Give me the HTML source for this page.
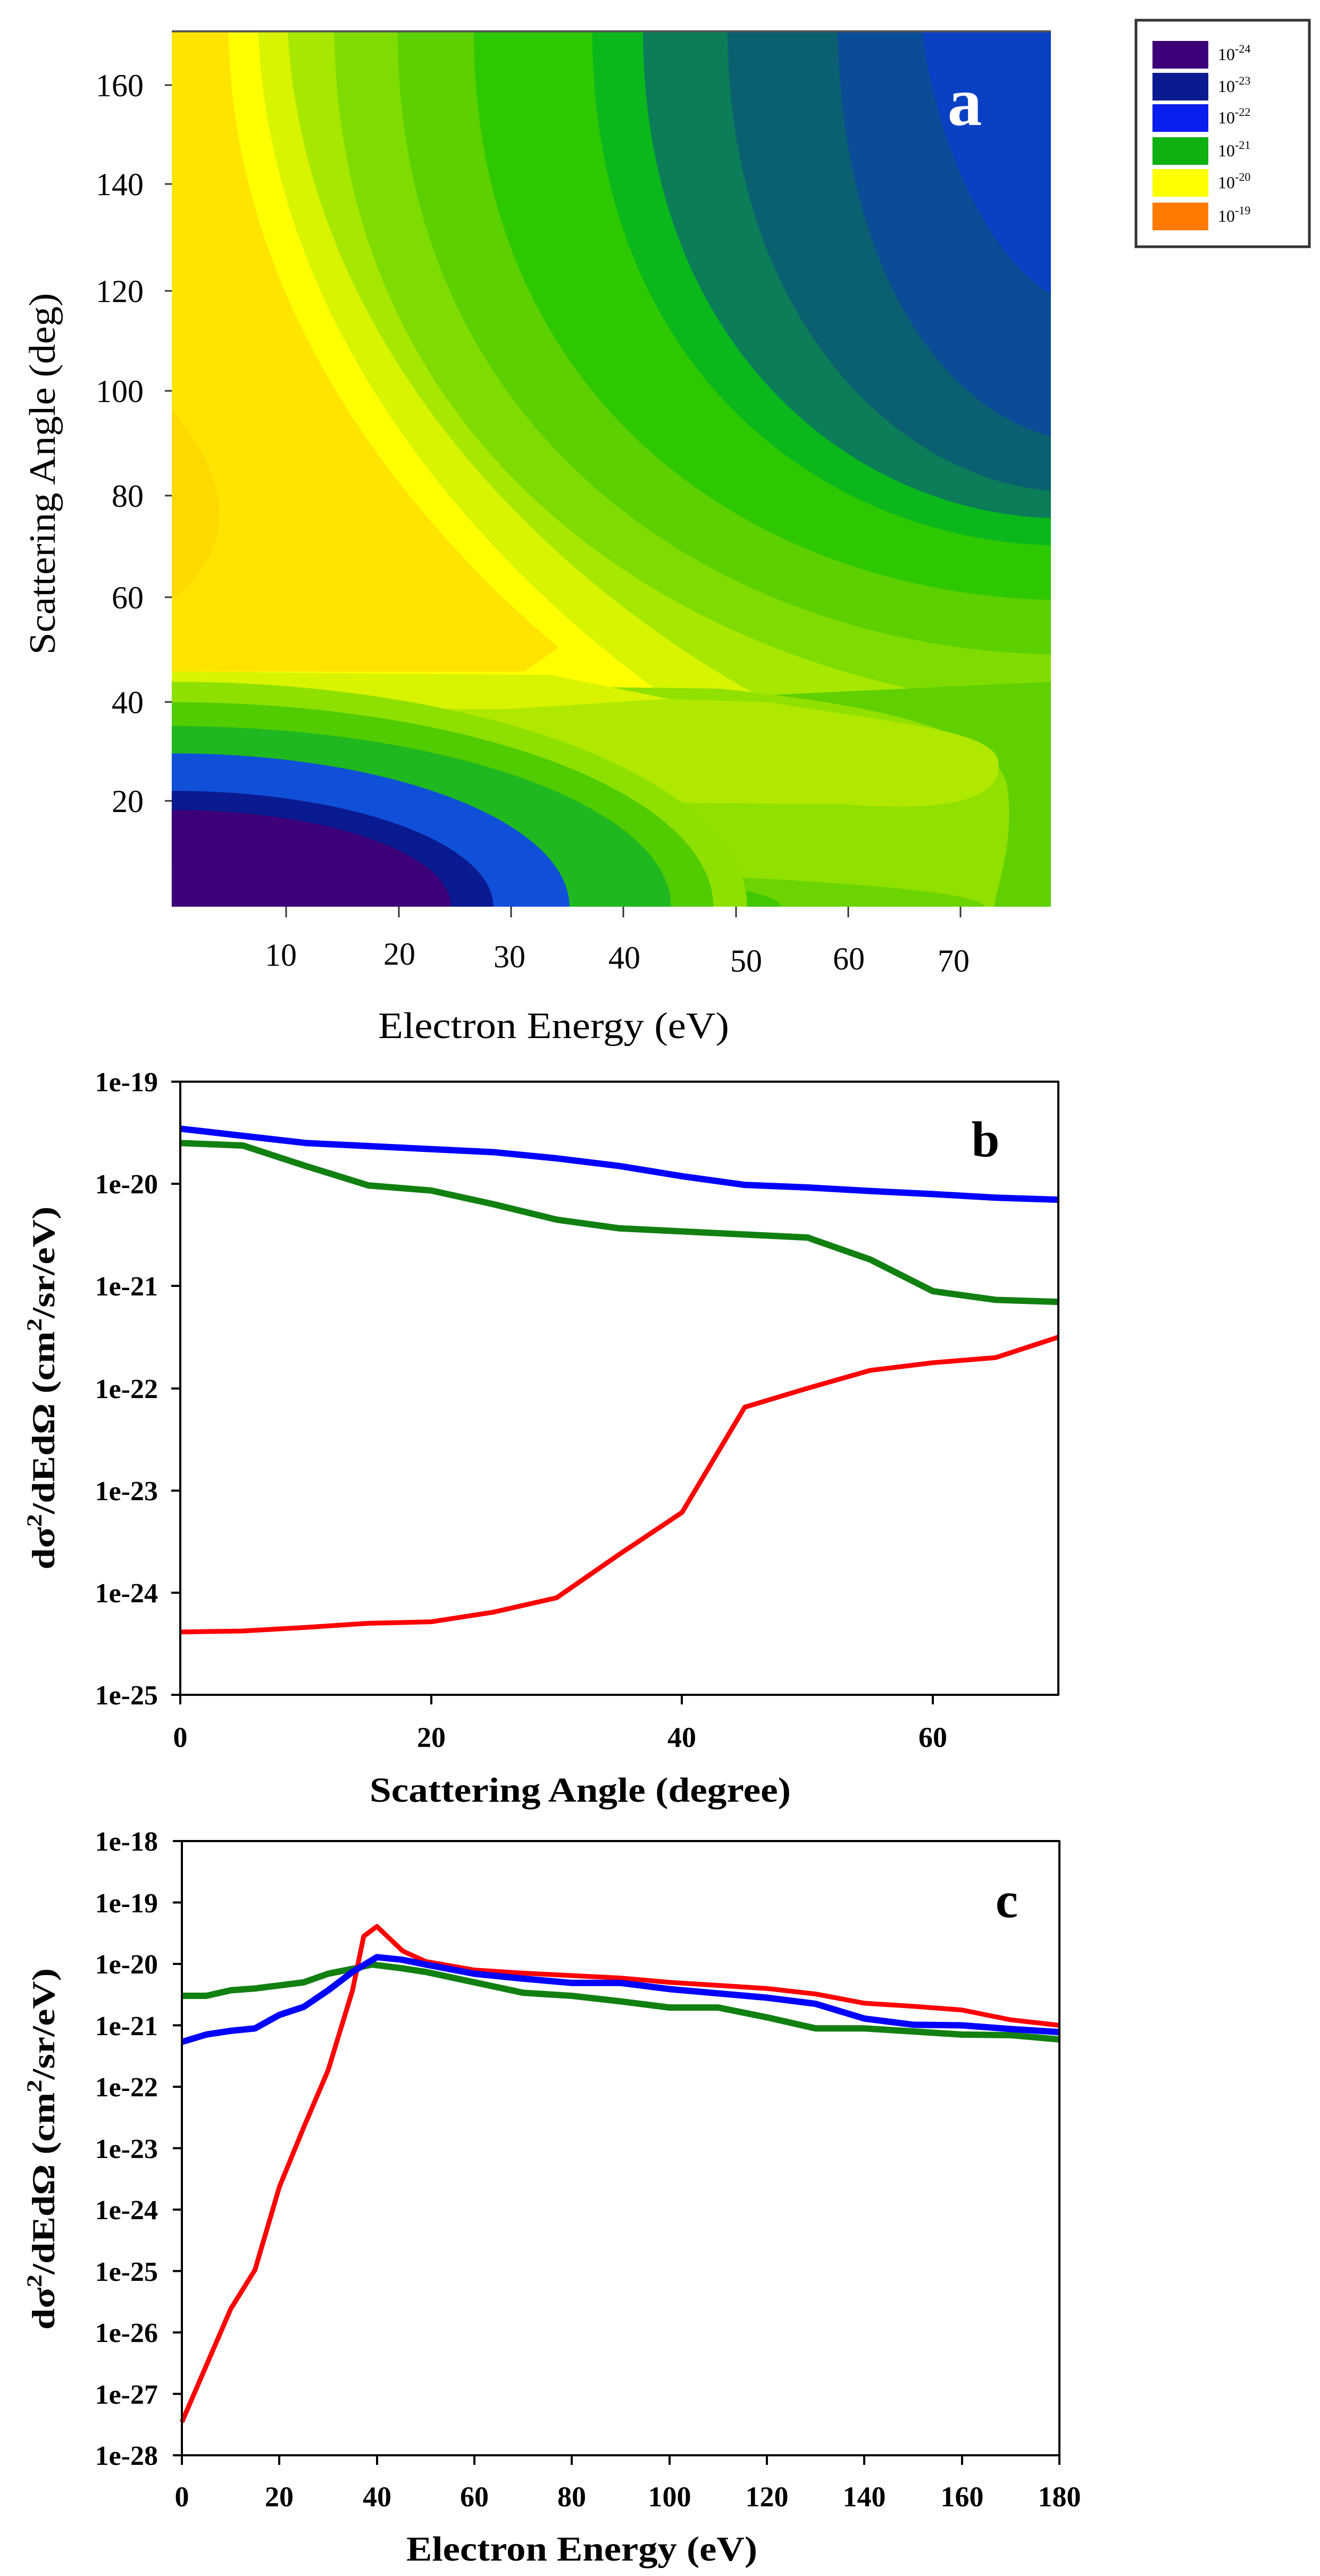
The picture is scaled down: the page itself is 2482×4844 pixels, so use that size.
<!DOCTYPE html>
<html><head><meta charset="utf-8"><style>html,body{margin:0;padding:0;background:#fff}svg{display:block}</style></head>
<body>
<svg xmlns="http://www.w3.org/2000/svg" width="2482" height="4844" viewBox="0 0 2482 4844">
<rect width="2482" height="4844" fill="#fff"/>
<defs><clipPath id="ca"><rect x="203" y="45" width="1039" height="1285"/></clipPath></defs>
<g transform="matrix(1.591 0 0 1.282 0 0)">
<g clip-path="url(#ca)">
<rect x="203" y="45" width="1039" height="1285" fill="#0a40c4"/>
<path d="M203,45 L1090,45 C1110,250 1190,400 1242,430 L1242,1330 L203,1330 Z" fill="#0b4c96"/>
<path d="M990,45 C995,400 1116,600 1242,640 L1242,1330 L203,1330 L203,45 Z" fill="#0a6070"/>
<path d="M860,45 C860,450 1050,700 1242,720 L1242,1330 L203,1330 L203,45 Z" fill="#0b7d58"/>
<path d="M760,45 C760,500 1000,750 1242,760 L1242,1330 L203,1330 L203,45 Z" fill="#0ab81c"/>
<path d="M700,45 C700,540 970,790 1242,800 L1242,1330 L203,1330 L203,45 Z" fill="#2ec800"/>
<path d="M560,45 C560,600 900,870 1242,880 L1242,1330 L203,1330 L203,45 Z" fill="#5cd000"/>
<path d="M470,45 C470,640 850,950 1242,960 L1242,1330 L203,1330 L203,45 Z" fill="#80dc00"/>
<path d="M395,45 C400,660 800,1000 1242,1040 L1242,1330 L203,1330 L203,45 Z" fill="#a8e800"/>
<path d="M340,45 C360,500 640,850 910,1030 L203,1030 L203,45 Z" fill="#d8f400"/>
<path d="M305,45 C320,480 560,820 790,1025 L203,1025 L203,45 Z" fill="#ffff00"/>
<path d="M270,45 C275,450 480,760 660,950 L620,985 L203,985 L203,45 Z" fill="#ffe400"/>
<path d="M203,600 C270,700 285,800 203,880 Z" fill="#ffd800"/>
<path d="M203,1000 L900,1020 L1242,1000 L1242,1330 L203,1330 Z" fill="#60d000"/>
<path d="M203,1000 L850,1010 C1000,1030 1170,1060 1190,1150 C1200,1230 1180,1290 1175,1330 L203,1330 Z" fill="#90e000"/>
<path d="M203,992 L790,1025 L910,1030 C1050,1060 1180,1070 1180,1120 C1185,1180 1100,1190 1000,1180 L203,1170 Z" fill="#b0e800"/>
<path d="M203,985 L650,990 L790,1025 L600,1040 L203,1040 Z" fill="#d8f400"/>
<ellipse cx="203" cy="1330" rx="960" ry="60" fill="#6cd400"/>
<ellipse cx="203" cy="1330" rx="720" ry="70" fill="#40c800"/>
<ellipse cx="203" cy="1330" rx="680" ry="330" fill="#8ee000"/>
<ellipse cx="203" cy="1330" rx="640" ry="300" fill="#50cc00"/>
<ellipse cx="203" cy="1330" rx="590" ry="265" fill="#20b820"/>
<ellipse cx="203" cy="1330" rx="470" ry="225" fill="#1050d8"/>
<ellipse cx="203" cy="1330" rx="380" ry="170" fill="#0a1a90"/>
<ellipse cx="203" cy="1330" rx="330" ry="142" fill="#3d0078"/>
</g>
<line x1="203" y1="46" x2="1242" y2="46" stroke="#555" stroke-width="3"/>
</g>
<text x="1814" y="235" font-family="Liberation Serif, serif" font-weight="bold" font-size="130" fill="#fff" text-anchor="middle">a</text>
<g stroke="#333" stroke-width="3">
<line x1="310" y1="160" x2="323" y2="160"/><line x1="310" y1="346" x2="323" y2="346"/><line x1="310" y1="547" x2="323" y2="547"/><line x1="310" y1="735" x2="323" y2="735"/><line x1="310" y1="932" x2="323" y2="932"/><line x1="310" y1="1123" x2="323" y2="1123"/><line x1="310" y1="1320" x2="323" y2="1320"/><line x1="310" y1="1506" x2="323" y2="1506"/>
<line x1="538" y1="1705" x2="538" y2="1725"/><line x1="750" y1="1705" x2="750" y2="1725"/><line x1="961" y1="1705" x2="961" y2="1725"/><line x1="1172" y1="1705" x2="1172" y2="1725"/><line x1="1384" y1="1705" x2="1384" y2="1725"/><line x1="1595" y1="1705" x2="1595" y2="1725"/><line x1="1806" y1="1705" x2="1806" y2="1725"/>
</g>
<g font-family="Liberation Serif, serif" font-size="60" fill="#000" text-anchor="end">
<text x="270" y="181">160</text><text x="270" y="367">140</text><text x="270" y="568">120</text><text x="270" y="756">100</text><text x="270" y="953">80</text><text x="270" y="1144">60</text><text x="270" y="1341">40</text><text x="270" y="1527">20</text>
</g>
<g font-family="Liberation Serif, serif" font-size="60" fill="#000" text-anchor="middle">
<text x="528" y="1816">10</text><text x="751" y="1814">20</text><text x="958" y="1819">30</text><text x="1174" y="1821">40</text><text x="1403" y="1827">50</text><text x="1596" y="1823">60</text><text x="1793" y="1827">70</text>
<text x="1041" y="1952" font-size="70" textLength="660" lengthAdjust="spacingAndGlyphs">Electron Energy (eV)</text>
<text transform="translate(103,891) rotate(-90)" font-size="70" textLength="680" lengthAdjust="spacingAndGlyphs">Scattering Angle (deg)</text>
</g>
<rect x="2136" y="38" width="326" height="426" fill="#fff" stroke="#333" stroke-width="5"/>
<g>
<rect x="2167" y="77" width="105" height="52" fill="#3d0078"/>
<rect x="2167" y="137" width="105" height="52" fill="#0a1a90"/>
<rect x="2167" y="196" width="105" height="52" fill="#0a1ef0"/>
<rect x="2167" y="258" width="105" height="52" fill="#10b010"/>
<rect x="2167" y="318" width="105" height="52" fill="#ffff00"/>
<rect x="2167" y="381" width="105" height="52" fill="#ff7a00"/>
</g>
<g font-family="Liberation Serif, serif" font-size="32" fill="#000">
<text x="2290" y="113">10<tspan font-size="22" dy="-14">-24</tspan></text>
<text x="2290" y="173">10<tspan font-size="22" dy="-14">-23</tspan></text>
<text x="2290" y="232">10<tspan font-size="22" dy="-14">-22</tspan></text>
<text x="2290" y="294">10<tspan font-size="22" dy="-14">-21</tspan></text>
<text x="2290" y="354">10<tspan font-size="22" dy="-14">-20</tspan></text>
<text x="2290" y="417">10<tspan font-size="22" dy="-14">-19</tspan></text>
</g>

<g fill="none" stroke-linejoin="round">
<g transform="matrix(23.586 0 0 -192.17 339 -1617.2)">
<polyline vector-effect="non-scaling-stroke" stroke="#ff0000" stroke-width="9" points="0,-24.385 5,-24.375 10,-24.34 15,-24.3 20,-24.285 25,-24.19 30,-24.05 35,-23.625 40,-23.215 45,-22.185 50,-22.0 55,-21.825 60,-21.75 65,-21.7 70,-21.5"/>
<polyline vector-effect="non-scaling-stroke" stroke="#118011" stroke-width="12" points="0,-19.6 5,-19.625 10,-19.825 15,-20.015 20,-20.065 25,-20.2 30,-20.35 35,-20.435 40,-20.465 45,-20.495 50,-20.525 55,-20.74 60,-21.05 65,-21.135 70,-21.155"/>
<polyline vector-effect="non-scaling-stroke" stroke="#0000ff" stroke-width="12" points="0,-19.46 5,-19.53 10,-19.6 15,-19.63 20,-19.66 25,-19.69 30,-19.75 35,-19.825 40,-19.925 45,-20.01 50,-20.035 55,-20.07 60,-20.1 65,-20.135 70,-20.155"/>
</g>
<rect x="339" y="2034" width="1651" height="1153" stroke="#000" stroke-width="4"/>
</g>
<g stroke="#000" stroke-width="4">
<line x1="322" y1="2034" x2="339" y2="2034"/><line x1="322" y1="2226" x2="339" y2="2226"/><line x1="322" y1="2418" x2="339" y2="2418"/><line x1="322" y1="2611" x2="339" y2="2611"/><line x1="322" y1="2803" x2="339" y2="2803"/><line x1="322" y1="2995" x2="339" y2="2995"/><line x1="322" y1="3187" x2="339" y2="3187"/>
<line x1="339" y1="3187" x2="339" y2="3205"/><line x1="811" y1="3187" x2="811" y2="3205"/><line x1="1282" y1="3187" x2="1282" y2="3205"/><line x1="1754" y1="3187" x2="1754" y2="3205"/>
</g>
<g font-family="Liberation Serif, serif" font-weight="bold" font-size="52" fill="#000" text-anchor="end">
<text x="297" y="2052">1e-19</text><text x="297" y="2244">1e-20</text><text x="297" y="2436">1e-21</text><text x="297" y="2629">1e-22</text><text x="297" y="2821">1e-23</text><text x="297" y="3013">1e-24</text><text x="297" y="3205">1e-25</text>
</g>
<g font-family="Liberation Serif, serif" font-weight="bold" font-size="54" fill="#000" text-anchor="middle">
<text x="339" y="3285">0</text><text x="811" y="3285">20</text><text x="1282" y="3285">40</text><text x="1754" y="3285">60</text>
<text x="1091" y="3388" font-size="66" textLength="792" lengthAdjust="spacingAndGlyphs">Scattering Angle (degree)</text>
<text transform="translate(102,2610) rotate(-90)" font-size="60" textLength="683" lengthAdjust="spacingAndGlyphs">dσ<tspan font-size="40" dy="-24">2</tspan><tspan dy="24">/dEdΩ (cm</tspan><tspan font-size="40" dy="-24">2</tspan><tspan dy="24">/sr/eV)</tspan></text>
<text x="1853" y="2175" font-size="95">b</text>
</g>

<g fill="none" stroke-linejoin="round">
<g transform="matrix(9.1667 0 0 -115.5 342 1383)">
<polyline vector-effect="non-scaling-stroke" stroke="#118011" stroke-width="12" points="0,-20.52 5,-20.52 10,-20.43 15,-20.4 20,-20.35 25,-20.3 30,-20.16 35,-20.08 39,-20.01 45,-20.07 50,-20.13 60,-20.3 70,-20.47 80,-20.52 90,-20.61 100,-20.71 110,-20.71 120,-20.87 130,-21.05 140,-21.05 150,-21.1 160,-21.15 170,-21.16 180,-21.23"/>
<polyline vector-effect="non-scaling-stroke" stroke="#ff0000" stroke-width="9" points="0,-27.46 10,-25.62 15,-24.98 20,-23.63 25,-22.66 30,-21.73 35,-20.43 37.3,-19.55 40,-19.39 45.3,-19.79 50,-19.96 60,-20.1 70,-20.15 90,-20.23 100,-20.3 110,-20.35 120,-20.4 130,-20.49 140,-20.64 150,-20.69 160,-20.75 170,-20.91 180,-21.0"/>
<polyline vector-effect="non-scaling-stroke" stroke="#0000ff" stroke-width="12" points="0,-21.27 5,-21.15 10,-21.09 15,-21.05 20,-20.83 25,-20.7 30,-20.43 35,-20.13 40,-19.89 45,-19.93 50,-20.01 60,-20.16 70,-20.24 80,-20.31 90,-20.31 100,-20.41 110,-20.48 120,-20.55 130,-20.65 140,-20.89 150,-20.99 160,-21.0 170,-21.06 180,-21.11"/>
</g>
<rect x="342" y="3462" width="1650" height="1155" stroke="#000" stroke-width="4"/>
</g>
<g stroke="#000" stroke-width="4">
<line x1="325" y1="3462" x2="342" y2="3462"/><line x1="325" y1="3577.5" x2="342" y2="3577.5"/><line x1="325" y1="3693" x2="342" y2="3693"/><line x1="325" y1="3808.5" x2="342" y2="3808.5"/><line x1="325" y1="3924" x2="342" y2="3924"/><line x1="325" y1="4039.5" x2="342" y2="4039.5"/><line x1="325" y1="4155" x2="342" y2="4155"/><line x1="325" y1="4270.5" x2="342" y2="4270.5"/><line x1="325" y1="4386" x2="342" y2="4386"/><line x1="325" y1="4501.5" x2="342" y2="4501.5"/><line x1="325" y1="4617" x2="342" y2="4617"/>
<line x1="342" y1="4617" x2="342" y2="4635"/><line x1="525" y1="4617" x2="525" y2="4635"/><line x1="709" y1="4617" x2="709" y2="4635"/><line x1="892" y1="4617" x2="892" y2="4635"/><line x1="1075" y1="4617" x2="1075" y2="4635"/><line x1="1259" y1="4617" x2="1259" y2="4635"/><line x1="1442" y1="4617" x2="1442" y2="4635"/><line x1="1625" y1="4617" x2="1625" y2="4635"/><line x1="1809" y1="4617" x2="1809" y2="4635"/><line x1="1992" y1="4617" x2="1992" y2="4635"/>
</g>
<g font-family="Liberation Serif, serif" font-weight="bold" font-size="52" fill="#000" text-anchor="end">
<text x="297" y="3480">1e-18</text><text x="297" y="3596">1e-19</text><text x="297" y="3711">1e-20</text><text x="297" y="3827">1e-21</text><text x="297" y="3942">1e-22</text><text x="297" y="4058">1e-23</text><text x="297" y="4173">1e-24</text><text x="297" y="4289">1e-25</text><text x="297" y="4404">1e-26</text><text x="297" y="4520">1e-27</text><text x="297" y="4635">1e-28</text>
</g>
<g font-family="Liberation Serif, serif" font-weight="bold" font-size="54" fill="#000" text-anchor="middle">
<text x="342" y="4713">0</text><text x="525" y="4713">20</text><text x="709" y="4713">40</text><text x="892" y="4713">60</text><text x="1075" y="4713">80</text><text x="1259" y="4713">100</text><text x="1442" y="4713">120</text><text x="1625" y="4713">140</text><text x="1809" y="4713">160</text><text x="1992" y="4713">180</text>
<text x="1094" y="4815" font-size="66" textLength="660" lengthAdjust="spacingAndGlyphs">Electron Energy (eV)</text>
<text transform="translate(102,4041) rotate(-90)" font-size="60" textLength="680" lengthAdjust="spacingAndGlyphs">dσ<tspan font-size="40" dy="-24">2</tspan><tspan dy="24">/dEdΩ (cm</tspan><tspan font-size="40" dy="-24">2</tspan><tspan dy="24">/sr/eV)</tspan></text>
<text x="1893" y="3605" font-size="95">c</text>
</g>
</svg>
</body></html>
